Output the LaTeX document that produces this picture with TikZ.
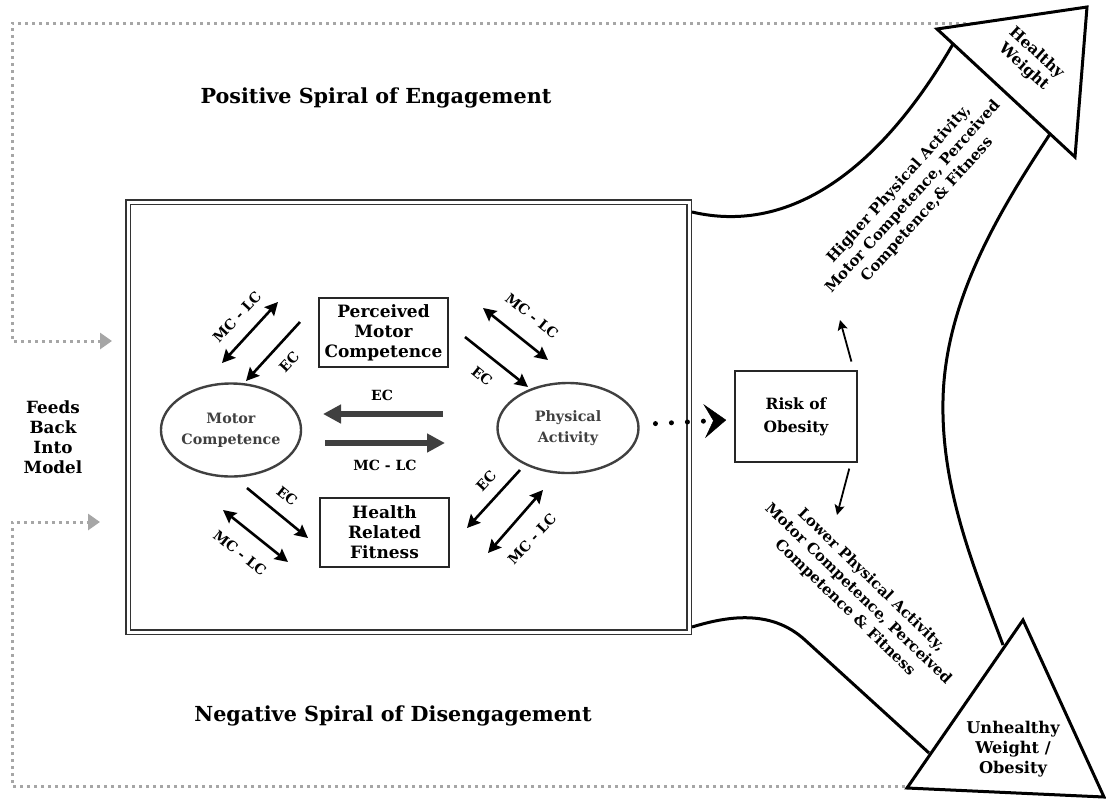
\documentclass[tikz,border=0pt]{standalone}
\usepackage{fontspec}
\setmainfont{DejaVu Serif}
\usetikzlibrary{arrows.meta,shapes.geometric}
\begin{document}
\begin{tikzpicture}[x=1pt,y=-1pt,
  every node/.style={align=center, inner sep=0pt},
  big/.style={font=\bfseries\fontsize{20.7}{24}\selectfont},
  lbl/.style={font=\bfseries\fontsize{14}{16}\selectfont},
  box/.style={draw=black!85, line width=1.6pt, minimum width=129pt, minimum height=69pt, font=\bfseries\fontsize{17}{20}\selectfont},
  oval/.style={ellipse, draw=black!75, line width=2.4pt, text=black!75, font=\bfseries\fontsize{14.3}{21}\selectfont},
  diag/.style={line width=2.6pt, -{Stealth[length=13pt,width=13pt,inset=2pt]}},
  diagboth/.style={line width=2.6pt, {Stealth[length=13pt,width=13pt,inset=2pt]}-{Stealth[length=13pt,width=13pt,inset=2pt]}},
  horiz/.style={draw=black!75, line width=6pt, -{Triangle[length=18pt,width=18pt]}},
  fb/.style={draw=black!35, line width=3pt, dash pattern=on 3pt off 4pt, -{Triangle[length=12pt,width=16pt,fill=black!35]}},
  band/.style={line width=3pt, line join=miter},
  dotconn/.style={line width=5pt, line cap=round, dash pattern=on 0pt off 16pt, -{Stealth[length=22pt,width=34pt,inset=9pt,line width=0.5pt]}},
  small/.style={line width=1.8pt, -{Stealth[length=10pt,width=10pt,inset=2pt]}},
  side/.style={font=\bfseries\fontsize{15}{19}\selectfont},
]
\useasboundingbox (0,0) rectangle (1106,801);

% feedback dotted lines
\draw[fb] (980,23) -- (12,23) -- (12,341) -- (112,341);
\draw[fb] (905,786) -- (12,786) -- (12,522) -- (100,522);

% main double box
\draw[double, double distance=3pt, line width=1.6pt, draw=black!80] (128,202) rectangle (689,632);

% bands
\draw[band] (692,212) .. controls (790,235) and (880,170) .. (953,44);
\draw[band] (1050,134) .. controls (1000,210) and (945,300) .. (943,400)
                       .. controls (941,490) and (975,570) .. (1003,645);
\draw[band] (692,627) .. controls (725,617) and (770,608) .. (805,640) -- (929,753);
\draw[band, fill=white] (937,29) -- (1087,7) -- (1075,157) -- cycle;
\draw[band, fill=white] (1023,620) -- (1104,797) -- (907,788) -- cycle;

% nodes
\node[box] (pmc) at (383.5,332.5) {Perceived\\Motor\\Competence};
\node[box] (hrf) at (384.5,532.5) {Health\\Related\\Fitness};
\node[oval, minimum width=130pt, minimum height=93pt] (mc) at (231,430) {Motor\\Competence};
\node[oval, minimum width=141pt, minimum height=90pt] (pa) at (568,428) {Physical\\Activity};
\node[box, minimum width=122pt, minimum height=91pt, font=\bfseries\fontsize{15.5}{23}\selectfont] (risk) at (796,416.5) {Risk of\\Obesity};

% horizontal arrows
\coordinate (ecS) at (443,414); \coordinate (ecE) at (323,414);
\coordinate (mlS) at (325,443); \coordinate (mlE) at (445,443);
\draw[horiz] (ecS) -- (ecE);
\draw[horiz] (mlS) -- (mlE);
\node[lbl] (ecl) at (382,395) {EC};
\node[lbl] (mll) at (385,465) {MC - LC};

% diagonal arrows
\coordinate (a1) at (278,302); \coordinate (a2) at (222,363);
\coordinate (b1) at (300,322); \coordinate (b2) at (246,381);
\draw[diagboth] (a1) -- (a2);
\draw[diag] (b1) -- (b2);
\node[lbl, rotate=47] (l1) at (237,317) {MC - LC};
\node[lbl, rotate=47] (l2) at (289,362) {EC};

\coordinate (c1) at (247,488); \coordinate (c2) at (308,538);
\coordinate (d1) at (223,510); \coordinate (d2) at (288,562);
\draw[diag] (c1) -- (c2);
\draw[diagboth] (d1) -- (d2);
\node[lbl, rotate=-39] (l3) at (287,496) {EC};
\node[lbl, rotate=-39] (l4) at (240,553) {MC - LC};

\coordinate (e1) at (483,308); \coordinate (e2) at (548,360);
\coordinate (f1) at (465,337); \coordinate (f2) at (528,387);
\draw[diagboth] (e1) -- (e2);
\draw[diag] (f1) -- (f2);
\node[lbl, rotate=-39] (l5) at (532,316) {MC - LC};
\node[lbl, rotate=-39] (l6) at (482,376) {EC};

\coordinate (g1) at (520,470); \coordinate (g2) at (467,528);
\coordinate (h1) at (543,490); \coordinate (h2) at (488,553);
\draw[diag] (g1) -- (g2);
\draw[diagboth] (h1) -- (h2);
\node[lbl, rotate=47] (l7) at (486,481) {EC};
\node[lbl, rotate=47] (l8) at (532,539) {MC - LC};

% dotted connector
\draw[dotconn, shorten <=16pt, shorten >=8pt] (pa) -- (risk);

% small arrows from risk
\coordinate (hiA) at (840,320);
\coordinate (loA) at (837,515);
\draw[small, shorten <=9pt] ([xshift=-4pt]risk.north east) -- (hiA);
\draw[small, shorten <=6pt] ([xshift=-7pt]risk.south east) -- (loA);

% texts
\node[big] (pos) at (376,98) {Positive Spiral of Engagement};
\node[big] (neg) at (393,716) {Negative Spiral of Disengagement};
\node[font=\bfseries\fontsize{16.8}{20}\selectfont] (feeds) at (53,437) {Feeds\\Back\\Into\\Model};
\node[font=\bfseries\fontsize{15.5}{19}\selectfont, rotate=-42] (hw) at (1030,60) {Healthy\\Weight};
\node[font=\bfseries\fontsize{16.2}{20}\selectfont] (uw) at (1013,749) {Unhealthy\\Weight /\\Obesity};
\node[side, rotate=48] (hi) at (913,197) {Higher Physical Activity,\\Motor Competence, Perceived\\Competence,\& Fitness};
\node[side, rotate=-44] (lo) at (858,594) {Lower Physical Activity,\\Motor Competence, Perceived\\Competence \& Fitness};
\end{tikzpicture}
\end{document}
